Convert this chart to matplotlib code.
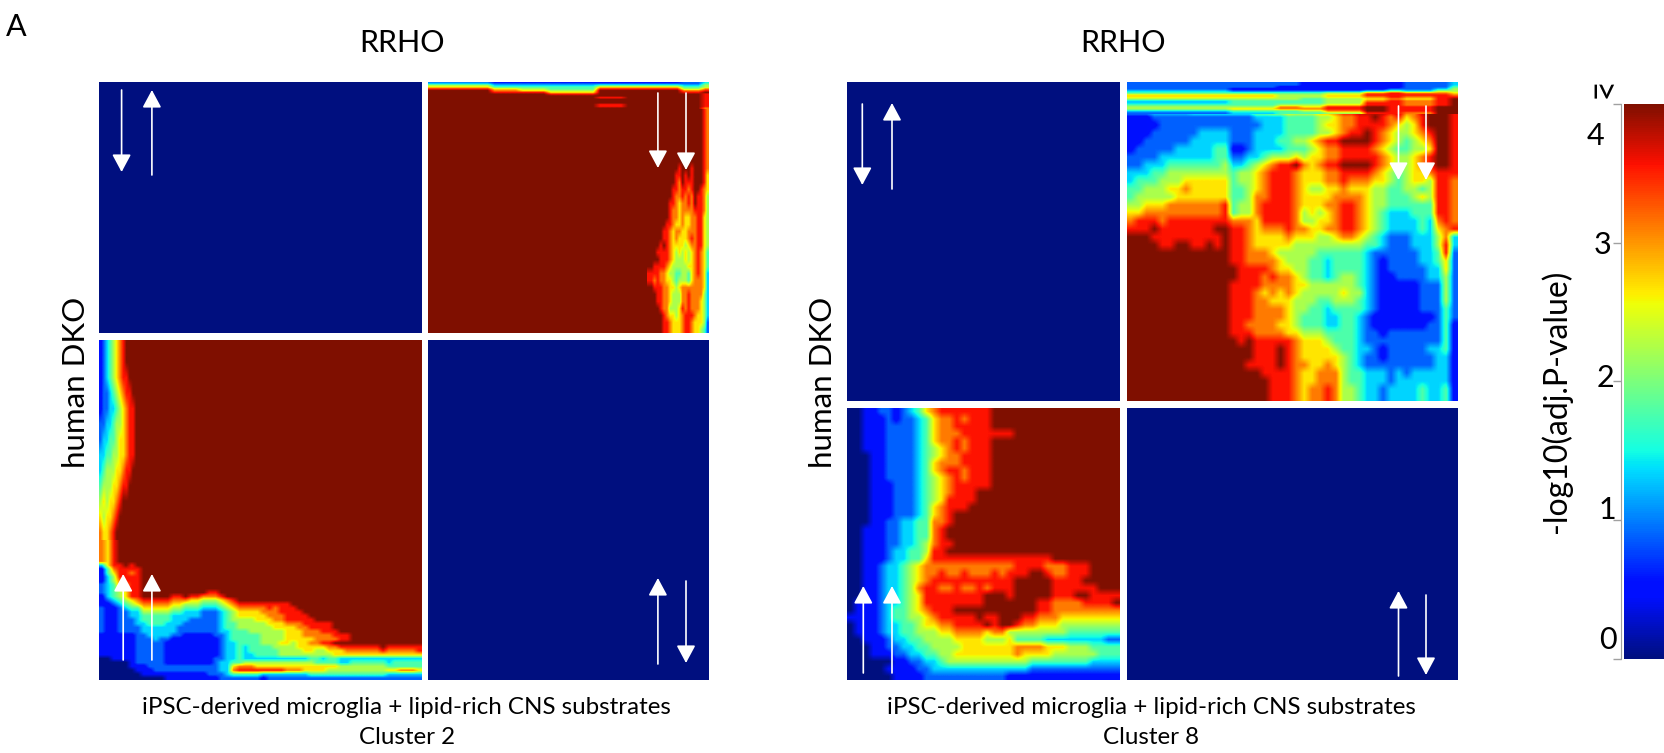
import matplotlib
matplotlib.use('Agg')
import matplotlib.pyplot as plt
import numpy as np
from matplotlib.colors import ListedColormap, Normalize
from matplotlib.cm import ScalarMappable

plt.rcParams['font.family'] = ['Lato', 'DejaVu Sans']

W, H = 1665, 753

# heatmap values: one digit per cell, 0..9 stands for 0..4 of -log10(adj.P-value)
blank = ['0']
full = ['9']

# Cluster 2, upper right panel: top band (blocks of columns), right edge
c2_up_top_blocks = [9, 4, 4, 7, 4, 8, 3, 1]
c2_up_top = [
    '21111123', '32222224', '53334435', '64446645',
    '86548857', '97659978', '98869989', '99989998',
    '99999998', '99998998', '99999998', '99999998',
    '99999998', '99998998', '99998998', '99999997',
]
c2_up_right = [
    '99999999999999999987', '99999999999999999987', '99999999999999999987',
    '99999999999999999987', '99999999999999999987', '99999999999999999987',
    '99999999999999999987', '99999999999999999987',
    '99999999998999899987',
    '99999999988989899986',
    '99999999987988899986',
    '99999999887887899876',
    '99999999877878798875',
    '99999998876778798875',
    '99999998776777788875',
    '99999998776766778865',
    '99999988766766778865',
    '99999887677667778865',
    '99999887676667878865',
    '99998987666656778865',
    '99988887656565678764',
    '99998887655565678764',
    '99888876555556678764',
    '88887765544554678763',
    '88787766545554677763',
    '99888776656777777763',
    '99988776555778777753',
    '99988776555778777653',
    '99998775556878777653',
    '99999876656788876653',
    '99999887666788766652',
    '99999887666788766542',
]

# Cluster 2, lower left panel: left edge and bottom part
c2_down_left = [
    '123456789999', '123456789999', '123456788999', '122345678899',
    '122334567889', '223345567889', '233445667889', '334455667889',
    '345556678899', '455566788999', '565667899999', '656678999999',
    '766789999999',
]
c2_down_bottom = [
    '7689', '7689', '7689', '7689', '7689', '7689',
    '3688989', '14788889', '14688789', '13588889', '13578889',
    '23477889', '23468889',
    '23456889 9999999999 88 9',
    '1345688 99999 88 98 87778 9',
    '1234567 88888 77 76 65556 78 9',
    '1123456 77777 66 55 54445 678 8888 8888 9',
    '2112344 66666 55 44 43334 567 7777 8788 89',
    '2112233 55555 44 33 32223 456 6667 7788 88 9',
    '2112233 44444 33 33 32223 456 6666 7778 8889',
    '2112223 44444 33 32 22223 455 5566 6778 8888 9',
    '2112223 34443 33 22 22223 445 5555 6667 7788 8889',
    '2112222 33333 32 22 22223 445 5555 5666 6778 8889',
    '2112222 33333 32 22 22223 344 4555 5556 6677 7888 9',
    '1111112 23333 22 11 11122 344 4445 5556 6677 7778 889',
    '1111112 22322 11 11 11112 344 4445 5556 6666 7777 889',
    '1111112 22221 11 11 11112 334 4445 5566 5667 7889 9',
    '1111112 22221 11 11 11112 334 3444 4555 5666 6677 88888889 888888',
    '1111112 22221 11 11 11112 334 3444 4455 5566 5566 67777778 777778',
    '1111112 22221 11 11 11112 334 3344 4455 5555 5556 66666666 666666',
    '0011112 22221 11 11 11122 334 3333 3333 3334 4344 33333333 333333',
    '0000012 22221 11 11 11123 344 5555 5555 5555 4444 33444444 344444',
    '0000011 12222 22 22 22223 367 7766 6666 6666 6666 55555555 444444',
    '0000001 11222 22 22 22223 378 8888 8887 7766 6655 55555555 667776',
    '0000000 11111 11 11 11222 344 4443 3333 3334 4444 44444444 333333',
    '0000000 00001 11 11 11112 222 2221 2222 2222 2222 22222222 222222',
]

# Cluster 8, upper right panel: top streaks (blocks of columns) and the rest
c8_up_top_blocks = [13, 6, 3, 3, 5, 3, 2, 4, 2, 1]
c8_up_top = [
    '2221111223', '2221111223', '2211111224', '2111112235',
    '3222234355', '4444578776', '6655688887', '6655678788',
    '5554567689', '3444578789', '3444588789', '4455688789',
    '5576898899', '5677898899', '3445798899', '2344588799',
]
c8_up = [
    '2222222222222 222222 222 111111 1111111 2222 344',
    '5555666666666 666777 555 566677 7788888 8899 996',
    '3333333334444 444444 455 445566 6778888 7889 997',
    '4444444455555 555667 787 778889 9998999 8799 998',
    '1112222222222 222333 344 445567 7889878 6789 998',
    '1111222222222 222233 344 445667 7888876 5689 998',
    '1112222223333 222333 344 445567 8898765 5678 998',
    '1122222233333 222333 445 567889 9998765 4567 998',
    '1222223333344 112333 344 456778 8887654 4556 998',
    '2222333333344 223345 556 566778 8888765 5678 998',
    '2233344444445 334567 889 767889 9998765 5678 998',
    '3334455555555 455678 887 666778 8887654 5667 888',
    '3444555666666 455678 887 666778 7776654 5665 887',
    '4455566766666 445678 887 655667 6665544 5545 887',
    '4555556666666 445778 887 666677 7765544 4565 887',
    '5566677777778 455788 887 666778 8765544 4444 887',
    '6677777777778 455788 887 565678 8765433 3444 887',
    '7888788888888 777688 887 556678 8765433 3343 787',
    '8889888888899 887677 787 766778 8765433 3343 678',
    '9998888888889 887666 676 665567 7654322 2333 573',
    '9999889988989 887666 665 555555 5544322 2333 583',
    '9999999999999 887776 555 554444 4432222 2233 482',
    '9999999999999 887777 655 544344 4432122 2233 462',
    '9999999999999 988887 665 544344 4432122 2223 362',
    '9999999999999 988878 776 544345 5432112 2223 352',
    '9999999999999 888877 776 655555 5432111 1122 252',
    '9999999999999 888767 676 555556 5532111 1122 252',
    '9999999999999 888776 665 554455 5432111 1122 252',
    '9999999999999 888777 765 544344 4432111 1122 242',
    '9999999999999 888777 765 444334 4321111 1111 242',
    '9999999999999 887777 665 444334 4321111 1112 241',
    '9999999999999 888777 766 555444 4322122 2222 241',
    '9999999999999 989888 887 666544 4322222 2222 241',
    '9999999999999 999888 987 666654 4332122 2223 341',
    '9999999999999 999888 987 666665 4322122 2222 331',
    '9999999999999 998888 987 766765 4322222 2222 331',
    '9999999999999 999988 887 667775 4433323 2333 331',
    '9999999999999 999998 887 667775 4433323 3333 331',
    '9999999999999 999998 887 677875 5433233 3343 341',
    '9999999999999 999998 887 677875 5433233 3343 341',
]

# Cluster 8, lower left panel
c8_down = [
    '00112212346788888889',
    '00111212234677878889',
    '00111222234677888889',
    '00111222234677788888889',
    '00111222234677878889',
    '00111222234567878889',
    '00011222234567788889',
    '00011222234677788889',
    '00011222234678878889',
    '00011222234567878889',
    '00011122234567888889',
    '00011122234567888999',
    '00011122234568888999',
    '00011122234678889',
    '0001112223467899',
    '00011223344778999',
    '0011122334478999',
    '00111223344789',
    '0011122334578899',
    '00111233445889',
    '00111233446888888888888888899999',
    '00112334567 77777777777 8888 777 888 9',
    '00112334567 78778777878 8899 877 888 99',
    '00112334567 88888888888 9999 988 889 9',
    '00112334578 87787787888 9999 988 888 899',
    '00112334568 88888889998 9999 988 899 888 8',
    '01112334568 88888889999 9998 877 778 888 9',
    '01112344567 88899999999 9998 877 777 777 7',
    '11112344556 78888898899 9887 776 666 666 6',
    '01112334456 67788889899 8776 665 555 555 5',
    '01112334455 56677776775 5555 555 444 444 4',
    '00111233445 55566665556 4444 333 333 332 2',
    '00011223344 55556666666 7777 666 555 444 4',
    '00011122334 45566666666 7666 655 555 544 4',
    '00000011223 34555555555 5544 444 444 333 3',
    '00000111122 33333333333 3322 222 222 222 2',
    '00000011112 22222222221 1111 111 111 111 1',
]

cbar_ticks = [0, 1, 2, 3, 4]
caption = 'iPSC-derived microglia + lipid-rich CNS substrates'

# jet, with the slightly lifted green of the reference
colores = plt.cm.jet(np.linspace(0, 1, 256))
colores[:, 1] = np.maximum(colores[:, 1], 0.06)
mapa = ListedColormap(colores)


def grid(rows):
    rows = [r.replace(' ', '') for r in rows]
    n = max(len(r) for r in rows)
    return np.array([[int(c) * 4 / 9 for c in r.ljust(n, r[-1])] for r in rows])


def add_panel(x0, x1, y0, y1):
    ax = fig.add_axes([x0 / W, 1 - y1 / H, (x1 - x0) / W, (y1 - y0) / H])
    ax.set_axis_off()
    return ax


def show(ax, values, ext=(0, 1, 0, 1)):
    ax.imshow(values, extent=(ext[0], ext[1], ext[3], ext[2]), aspect='auto', cmap=mapa,
              vmin=0, vmax=4, interpolation='bilinear', interpolation_stage='data')
    ax.set_xlim(0, 1)
    ax.set_ylim(1, 0)


fig = plt.figure(figsize=(W / 100, H / 100), dpi=100)

# Cluster 2
ax = add_panel(98.8, 421.6, 81.8, 333.4)
show(ax, grid(blank))

ax = add_panel(428, 708.3, 81.8, 333.4)
show(ax, grid(full))
show(ax, grid(c2_up_right), (0.78, 1, 0.11, 1))
show(ax, np.repeat(grid(c2_up_top), c2_up_top_blocks, axis=1), (0, 1, 0, 0.11))

ax = add_panel(98.8, 421.6, 339.8, 679.6)
show(ax, grid(full))
show(ax, grid(c2_down_left), (0, 0.12, 0, 0.589))
show(ax, grid(c2_down_bottom), (0, 1, 0.589, 1))

ax = add_panel(428, 708.3, 339.8, 679.6)
show(ax, grid(blank))

# Cluster 8
ax = add_panel(847.4, 1120.3, 81.8, 401.4)
show(ax, grid(blank))

ax = add_panel(1126.7, 1457, 81.8, 401.4)
show(ax, grid(c8_up))
show(ax, np.repeat(grid(c8_up_top), c8_up_top_blocks, axis=1), (0, 1, 0, 0.1))

ax = add_panel(847.4, 1120.3, 407.8, 679.6)
show(ax, grid(c8_down))

ax = add_panel(1126.7, 1457, 407.8, 679.6)
show(ax, grid(blank))

# overlay in pixels for arrows and text
over = fig.add_axes([0, 0, 1, 1], zorder=5)
over.set_xlim(0, W)
over.set_ylim(H, 0)
over.set_axis_off()

flechas = [
    (121.6, 90, 172), (151.9, 175, 90), (657.9, 93, 168), (686, 93, 170),
    (123.2, 660, 574), (151.9, 660, 574), (657.9, 664, 578), (686, 581, 663),
    (862.3, 104, 185), (892, 189, 103), (1398.5, 106, 180), (1426, 106, 180),
    (863.3, 673, 586), (892, 673, 586), (1398.5, 676, 591), (1426, 595, 675),
]
for x, inicio, fin in flechas:
    over.annotate('', xy=(x, fin), xytext=(x, inicio),
                  arrowprops=dict(arrowstyle='-|>,head_length=1.08,head_width=0.58', mutation_scale=10,
                                  color='white', lw=1.2, shrinkA=0, shrinkB=0))

over.text(6, 27, 'A', fontsize=22, ha='left', va='center')
for xc in (402.5, 1123.5):
    over.text(xc, 43, 'RRHO', fontsize=22, ha='center', va='center')
for xl in (76, 823):
    over.text(xl, 382, 'human DKO', fontsize=22.5, rotation=90, ha='center', va='center')
for xc, nombre in ((406.7, 'Cluster 2'), (1151, 'Cluster 8')):
    over.text(xc, 708, caption, fontsize=17.4, ha='center', va='center')
    over.text(xc, 738, nombre, fontsize=17.4, ha='center', va='center')

# colour bar, tick labels sit off their ticks in the reference
cax = add_panel(1624, 1665, 104, 658.5)
cax.set_axis_on()
cbar = fig.colorbar(ScalarMappable(Normalize(0, 4), mapa), cax=cax)
cbar.outline.set_visible(False)
cax.yaxis.set_ticks_position('left')
cbar.set_ticks(cbar_ticks)
cax.set_yticklabels([])
cax.tick_params(axis='y', length=6, width=1, color='#a0a0a0')
cax.spines['left'].set_visible(True)
cax.spines['left'].set_color('#a0a0a0')
cax.spines['left'].set_position(('outward', 2))
for t, xl, yl in zip(cbar_ticks, (1608, 1607, 1605, 1603, 1595), (640, 510, 378, 245, 136)):
    over.text(xl, yl, str(t), fontsize=22, ha='center', va='center')
over.text(1599, 93, '≥', fontsize=26, rotation=270, ha='center', va='center')
over.text(1556, 401, '-log10(adj.P-value)', fontsize=23, rotation=90, ha='center', va='center')

fig.savefig('out.png', dpi=100)
